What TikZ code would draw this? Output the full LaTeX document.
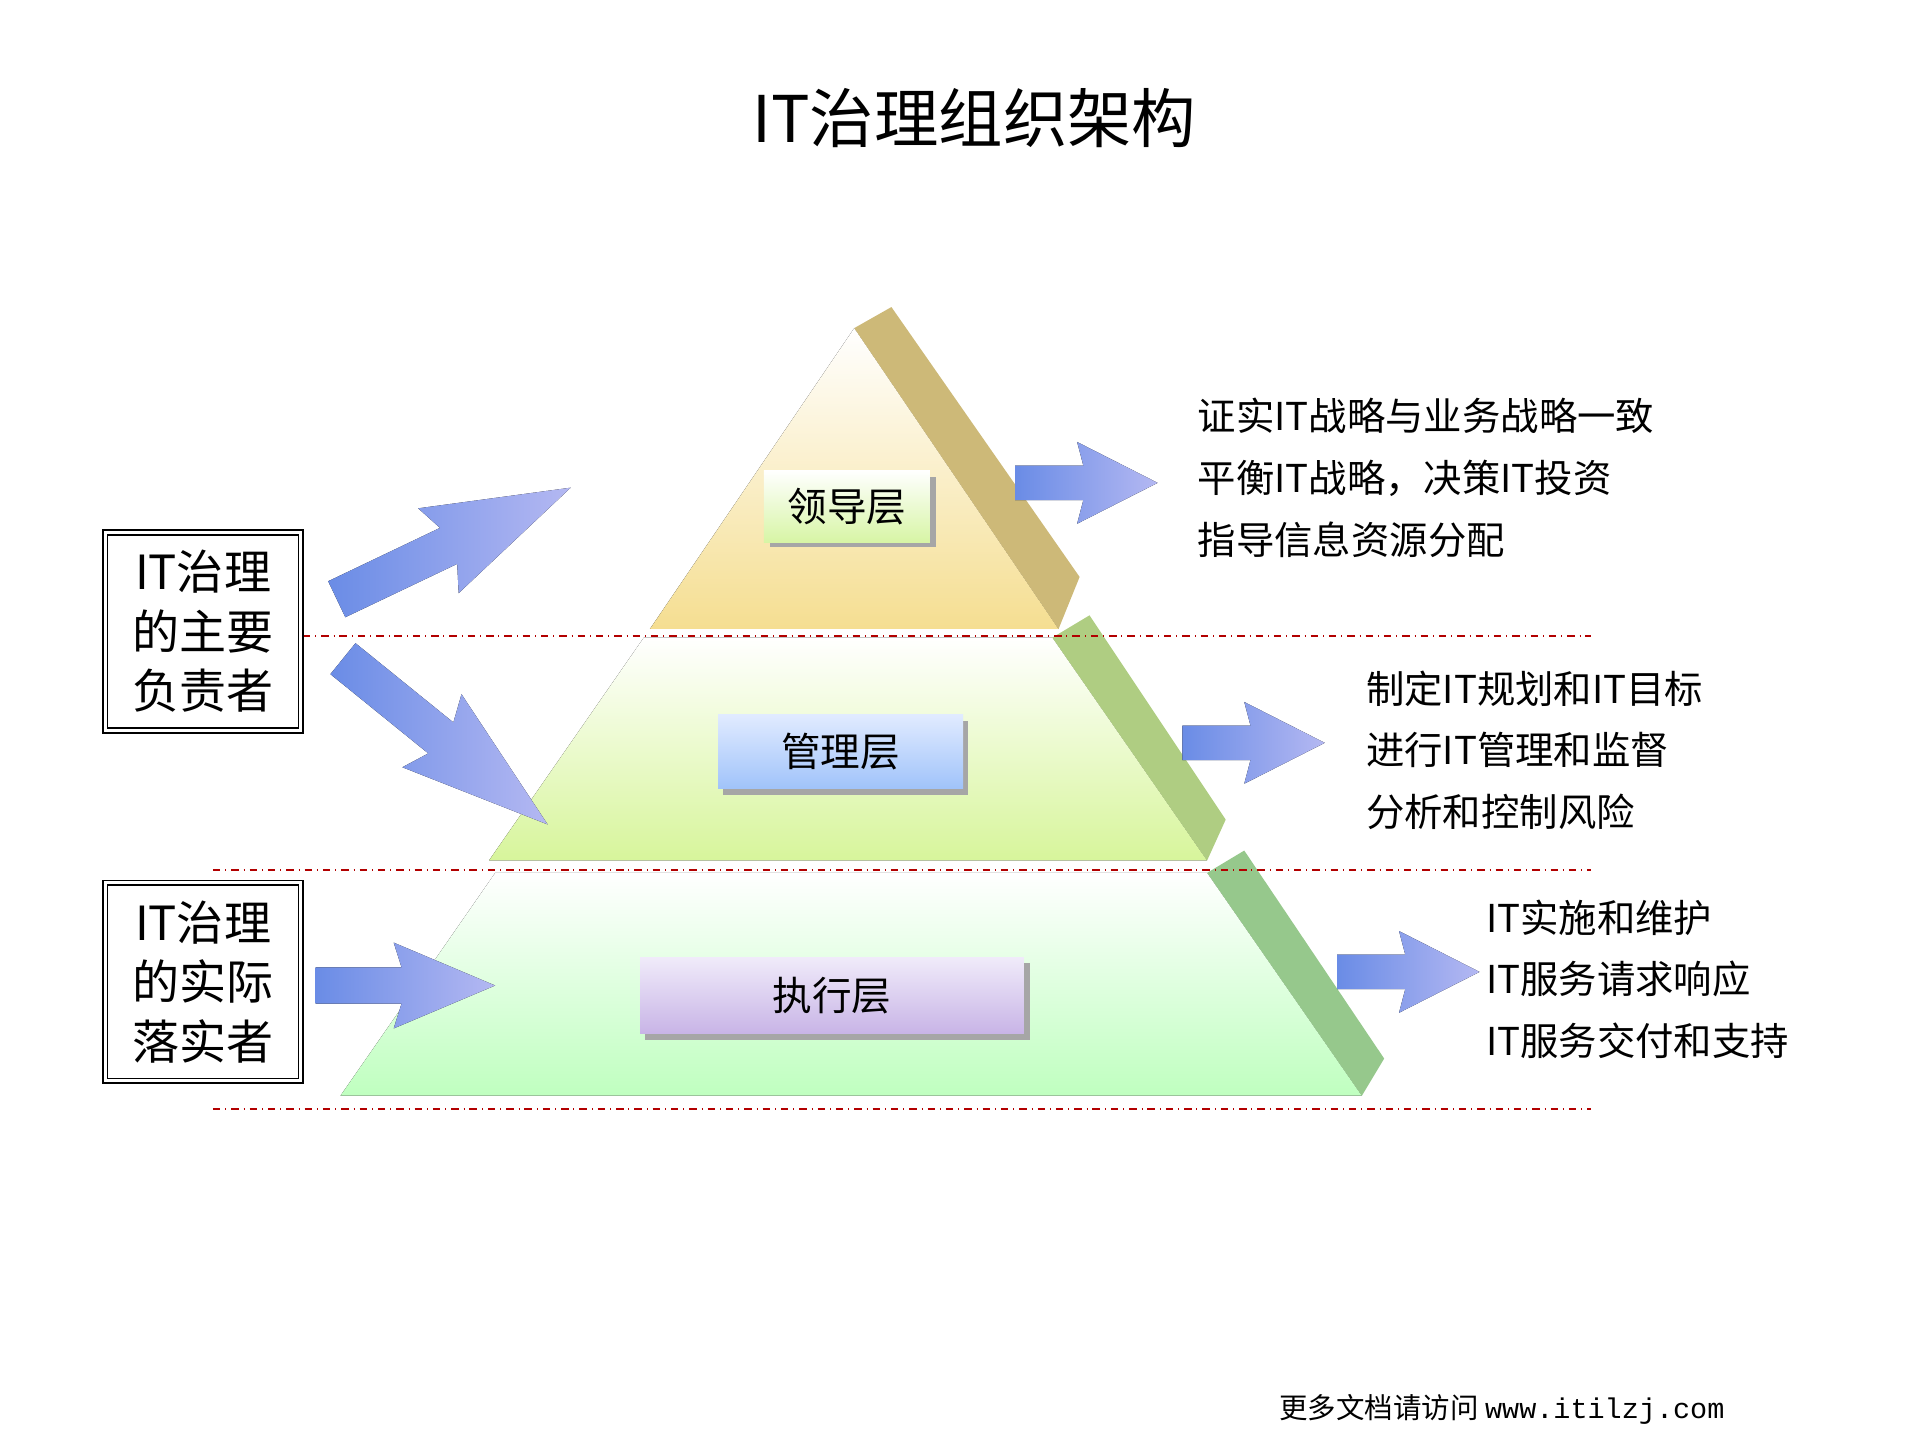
\documentclass[tikz,border=0pt]{standalone}
\usepackage{fontspec}
\setmainfont{Noto Sans CJK SC}
\newfontfamily\monof{Liberation Mono}
\begin{document}
\begin{tikzpicture}[x=0.5pt,y=-0.5pt,
  redline/.style={draw=red!70!black,dash dot,line width=0.8pt},
  sidetext/.style={anchor=west,font=\fontsize{15.5}{18}\selectfont,align=left,inner sep=0},
  lbox/.style={draw,double,double distance=1.2pt,line width=0.7pt,fill=white,minimum width=79pt,minimum height=80pt,font=\fontsize{19}{24}\selectfont,align=center,inner sep=2pt},
  lvl/.style={draw=none,font=\fontsize{16}{18}\selectfont,inner sep=0},
  barrow/.pic={\fill[left color=arrL,right color=arrR] (0,-14)--(55,-14)--(50,-33)--(115,0)--(50,33)--(55,14)--(0,14)--cycle;}]
\definecolor{arrL}{HTML}{6A8CE6}
\definecolor{arrR}{HTML}{B4B8F2}
\useasboundingbox (0,0) rectangle (1550,1162);
\node[font=\fontsize{26}{30}\selectfont] (title) at (787,95) {IT治理组织架构};
% bottom layer
\fill[top color=white,bottom color=green!25] (400,705)--(975,705)--(1100,885)--(275,885)--cycle;
\fill[color={rgb,255:red,150;green,200;blue,140}] (975,705)--(1005,687)--(1118,855)--(1100,885)--cycle;
% middle layer
\fill[top color=white,bottom color={rgb,255:red,215;green,245;blue,155}] (520,515)--(850,515)--(975,695)--(395,695)--cycle;
\fill[color={rgb,255:red,175;green,205;blue,130}] (850,515)--(880,497)--(990,662)--(975,695)--cycle;
% top layer
\fill[top color=white,bottom color={rgb,255:red,245;green,222;blue,145}] (690,265)--(855,508)--(525,508)--cycle;
\fill[color={rgb,255:red,205;green,185;blue,120}] (690,265)--(720,248)--(872,466)--(855,508)--cycle;
% dashed lines
\draw[redline] (215,514)--(1285,514);
\draw[redline] (172,703)--(1285,703);
\draw[redline] (172,896)--(1285,896);
% level labels
\fill[gray!70] (622,385) rectangle (756,442);
\node[lvl,minimum width=67pt,minimum height=29pt,top color=white,bottom color={rgb,255:red,215;green,245;blue,165}] (l1) at (684,409) {领导层};
\fill[gray!70] (584,582) rectangle (782,642);
\node[lvl,minimum width=99pt,minimum height=30pt,top color={rgb,255:red,225;green,235;blue,255},bottom color={rgb,255:red,160;green,195;blue,250}] (l2) at (679,607) {管理层};
\fill[gray!70] (521,778) rectangle (832,840);
\node[lvl,minimum width=155pt,minimum height=31pt,top color={rgb,255:red,240;green,235;blue,250},bottom color={rgb,255:red,200;green,180;blue,230}] (l3) at (672,804) {执行层};
% left boxes
\node[lbox] (b1) at (164,510) {IT治理\\的主要\\负责者};
\node[lbox] (b2) at (164,793) {IT治理\\的实际\\落实者};
% arrows
\pic[rotate=25.5,xscale=1.82,yscale=1.15] at (272,484) {barrow};
\pic[rotate=-39,xscale=1.85,yscale=1.15] at (277,532) {barrow};
\pic[xscale=1.26,yscale=1.05] at (255,796) {barrow};
\pic at (820,390) {barrow};
\pic at (955,600) {barrow};
\pic at (1080,785) {barrow};
% right text
\node[sidetext] (t1) at (967,336) {证实IT战略与业务战略一致};
\node[sidetext] (t2) at (967,386) {平衡IT战略，决策IT投资};
\node[sidetext] (t3) at (967,436) {指导信息资源分配};
\node[sidetext] (t4) at (1103,556) {制定IT规划和IT目标};
\node[sidetext] (t5) at (1103,606) {进行IT管理和监督};
\node[sidetext] (t6) at (1103,656) {分析和控制风险};
\node[sidetext] (t7) at (1200,741) {IT实施和维护};
\node[sidetext] (t8) at (1200,791) {IT服务请求响应};
\node[sidetext] (t9) at (1200,841) {IT服务交付和支持};
\node[anchor=west,font=\fontsize{11.5}{13}\selectfont,inner sep=0] (foot) at (1033,1138) {更多文档请访问 {\monof www.itilzj.com}};
\end{tikzpicture}
\end{document}
